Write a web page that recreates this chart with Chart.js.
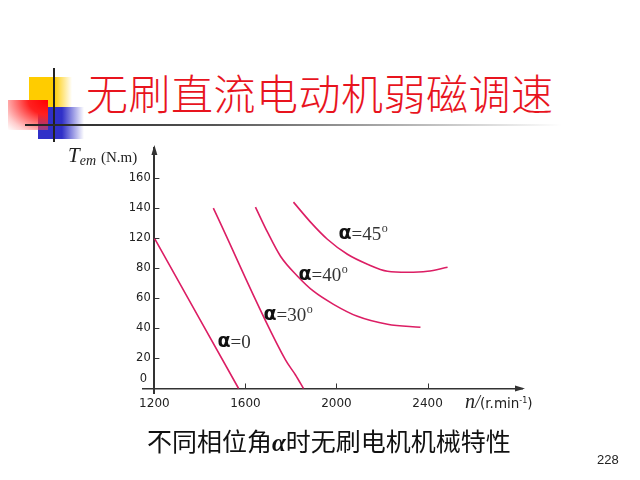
<!DOCTYPE html>
<html>
<head>
<meta charset="utf-8">
<script src="https://cdn.jsdelivr.net/npm/chart.js@4.4.1/dist/chart.umd.min.js"></script>
<style>
  body { margin: 0; background: #fff; }
  #page { position: relative; width: 640px; height: 480px; overflow: hidden; background: #fff; }
  #chart { position: absolute; left: 0; top: 0; }
  .abs { position: absolute; white-space: nowrap; line-height: 1; }
</style>
</head>
<body>
<div id="page">
  <!-- logo blocks -->
  <div class="abs" style="left:29px;top:77px;width:43px;height:30px;background:linear-gradient(to right,#ffcc00 0%,#ffcc00 58%,rgba(255,235,150,0) 100%)"></div>
  <div class="abs" style="left:38px;top:107px;width:46px;height:32px;background:linear-gradient(to right,#3030c8 0%,#3030c8 52%,rgba(90,90,230,0) 100%)"></div>
  <div class="abs" style="left:8px;top:100px;width:40px;height:30px;background:radial-gradient(ellipse at 100% 0%,#ff0000 0%,#ff2020 35%,rgba(255,110,110,0.35) 80%,rgba(255,255,255,0) 100%)"></div>
  <div class="abs" style="left:53px;top:68px;width:2px;height:74px;background:#222"></div>
  <div class="abs" style="left:25px;top:124px;width:537px;height:2px;background:linear-gradient(to right,#222 0%,#555 35%,rgba(210,210,210,0) 100%)"></div>

  <div class="abs" id="title" style="left:86px;top:71px;font-family:'Noto Sans CJK SC';font-weight:300;font-size:42px;letter-spacing:0.5px;color:#e8141e">无刷直流电动机弱磁调速</div>

  <canvas id="chart" width="640" height="480"></canvas>

  <!-- axis names -->
  <div class="abs" style="left:68px;top:145px;font-family:'Liberation Serif';color:#222">
    <i style="font-size:21px">T</i><i style="font-size:14px;position:relative;top:3px">em</i>
    <span style="font-size:15px;margin-left:1px">(N.m)</span>
  </div>
  <div class="abs" style="left:465px;top:391px;color:#222">
    <i style="font-family:'Liberation Serif';font-size:20px">n</i><i style="font-family:'Liberation Serif';font-size:18px">/</i><span style="font-family:'DejaVu Sans';font-size:13.5px">(r.min<sup style="font-size:8px">-1</sup>)</span>
  </div>

  <div class="abs" style="left:147px;top:428px;font-family:'Noto Sans CJK SC';font-size:25px;color:#111">不同相位角<i style="font-family:'Liberation Serif';font-weight:bold">α</i>时无刷电机机械特性</div>
  <div class="abs" style="left:597px;top:453px;font-family:'Liberation Sans';font-size:13px;color:#222">228</div>
</div>

<script>
const nTicks = [1200, 1600, 2000, 2400];
const tTickLabels = ['0', '20', '40', '60', '80', '120', '140', '160'];

// speed n (r/min) and torque per phase angle; torque counted as 20 per tick mark
const n0 = [1200, 1570];
const t0 = [100, 0];
const n30 = [1459, 1776, 1820, 1855];
const t30 = [120, 19, 9, 0];
const n40 = [1644, 1697, 1754, 1829, 1899, 1987, 2092, 2224, 2369];
const t40 = [120.7, 104, 88, 74.7, 64.7, 56, 48, 42.7, 40.7];
const n45 = [1811, 1886, 1960, 2048, 2136, 2224, 2312, 2400, 2488];
const t45 = [124, 110.7, 99.3, 89.3, 82.7, 78, 77.3, 78, 80.7];

const angles = ['0', '30', '40', '45'];
const labelN = [1477, 1679, 1833, 2009];
const labelT = [30.7, 48.7, 75.3, 103];

const curveColor = '#dc1e64';

function pts(ns, ts) {
    return ns.map((n, i) => ({ x: n, y: ts[i] }));
}

// tick marks drawn inside the axes, arrow heads and curve labels
const extras = {
    id: 'extras',
    afterDraw(chart) {
        const { ctx, chartArea, scales: { x, y } } = chart;
        const x0 = x.getPixelForValue(1200);
        const y0 = y.getPixelForValue(0);
        ctx.save();
        ctx.strokeStyle = '#333';
        ctx.fillStyle = '#333';
        ctx.lineWidth = 1;
        ctx.beginPath();
        y.ticks.forEach(t => {
            if (t.value === 0) return;
            const py = Math.round(y.getPixelForValue(t.value)) + 0.5;
            ctx.moveTo(x0, py);
            ctx.lineTo(x0 + 5, py);
        });
        x.ticks.forEach(t => {
            if (t.value === 1200) return;
            const px = Math.round(x.getPixelForValue(t.value)) + 0.5;
            ctx.moveTo(px, y0);
            ctx.lineTo(px, y0 - 5);
        });
        ctx.stroke();

        // arrows
        ctx.beginPath();
        ctx.moveTo(x0, chartArea.top - 3);
        ctx.lineTo(x0 - 3, chartArea.top + 7);
        ctx.lineTo(x0 + 3, chartArea.top + 7);
        ctx.closePath();
        ctx.fill();
        ctx.beginPath();
        ctx.moveTo(chartArea.right + 3, y0);
        ctx.lineTo(chartArea.right - 7, y0 - 3);
        ctx.lineTo(chartArea.right - 7, y0 + 3);
        ctx.closePath();
        ctx.fill();

        // curve labels
        ctx.textBaseline = 'middle';
        ctx.textAlign = 'left';
        angles.forEach((a, i) => {
            let px = x.getPixelForValue(labelN[i]);
            const py = y.getPixelForValue(labelT[i]);
            ctx.fillStyle = '#111';
            ctx.font = 'bold 19px "DejaVu Sans"';
            ctx.fillText('α', px, py);
            px += ctx.measureText('α').width;
            ctx.fillStyle = '#333';
            ctx.font = '19px "Liberation Serif"';
            ctx.fillText('=' + a, px, py + 1);
            px += ctx.measureText('=' + a).width;
            if (a !== '0') {
                ctx.font = '12px "Liberation Serif"';
                ctx.fillText('o', px + 0.5, py - 5);
            }
        });
        ctx.restore();
    }
};

new Chart(document.getElementById('chart').getContext('2d'), {
    type: 'scatter',
    data: {
        datasets: [
            { data: pts(n0, t0) },
            { data: pts(n30, t30) },
            { data: pts(n40, t40) },
            { data: pts(n45, t45) }
        ].map(d => Object.assign(d, {
            showLine: true,
            borderColor: curveColor,
            borderWidth: 1.6,
            pointRadius: 0,
            cubicInterpolationMode: 'monotone',
            fill: false
        }))
    },
    options: {
        responsive: false,
        animation: false,
        layout: { padding: { left: 143, right: 118, top: 148, bottom: 87 } },
        plugins: { legend: { display: false }, tooltip: { enabled: false } },
        scales: {
            x: {
                type: 'linear', min: 1150, max: 2815,
                position: { y: 0 },
                afterFit: s => { s.height = 0; },
                afterBuildTicks: s => { s.ticks = nTicks.map(v => ({ value: v })); },
                grid: { display: false, drawTicks: false },
                border: { display: true, color: '#333', width: 1.5 },
                ticks: {
                    padding: 8, color: '#222', maxRotation: 0, autoSkip: false,
                    font: { family: 'DejaVu Sans', size: 12 },
                    callback: v => String(v)
                }
            },
            y: {
                type: 'linear', min: -3, max: 160,
                position: { x: 1200 },
                afterFit: s => { s.width = 0; },
                afterBuildTicks: s => { s.ticks = tTickLabels.map((l, i) => ({ value: i * 20 })); },
                grid: { display: false, drawTicks: false },
                border: { display: true, color: '#333', width: 2 },
                ticks: {
                    color: '#222', autoSkip: false,
                    font: { family: 'DejaVu Sans', size: 11.5, lineHeight: 1.6 },
                    // trailing space leaves the gap between label and axis
                    callback: (v, i) => i === 0 ? ['0  ', ''] : tTickLabels[i] + ' '
                }
            }
        }
    },
    plugins: [extras]
});
</script>
</body>
</html>
